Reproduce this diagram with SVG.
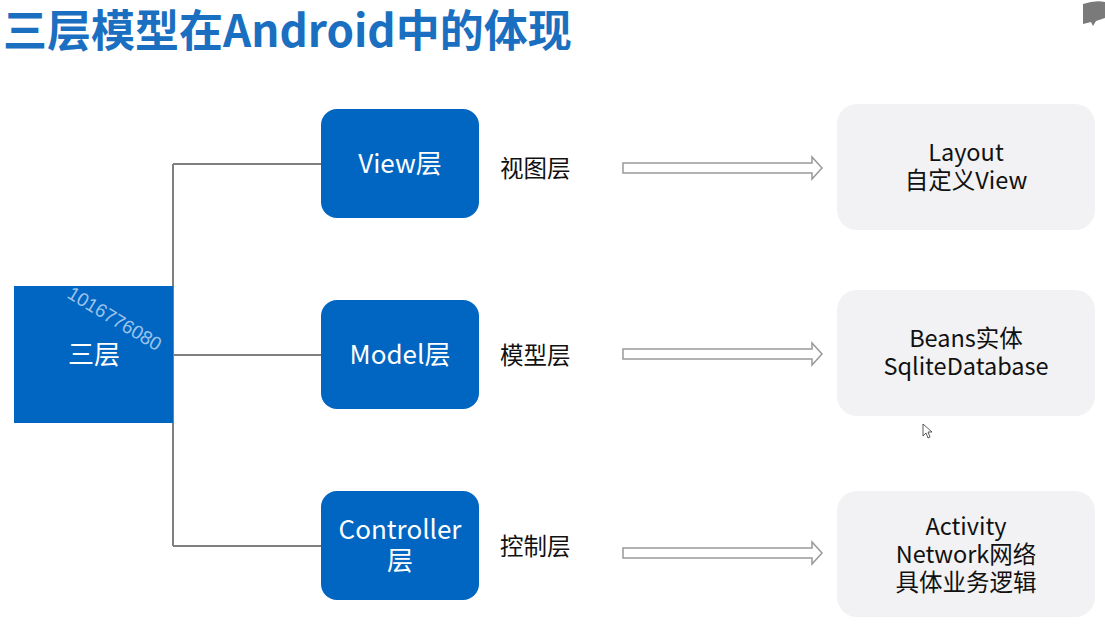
<svg xmlns="http://www.w3.org/2000/svg" width="1105" height="624" viewBox="0 0 1105 624">
<style>
.title{font-family:"Noto Sans CJK SC","Noto Sans",sans-serif;font-weight:700;font-size:44px;fill:#1a6fc1}
.blue{fill:#0066c2}
.wt{font-family:"Noto Sans CJK SC","Noto Sans",sans-serif;font-size:26px;fill:#ffffff;text-anchor:middle}
.lbl{font-family:"Noto Sans CJK SC","Noto Sans",sans-serif;font-size:23.5px;fill:#111111}
.grey{fill:#f2f1f3}
.bt{font-family:"Noto Sans CJK SC","Noto Sans",sans-serif;font-size:23.5px;fill:#111111;text-anchor:middle}
.conn{stroke:#7f7f7f;stroke-width:2;fill:none}
.arr{fill:#ffffff;stroke:#999999;stroke-width:1.5}
</style>
<rect width="1105" height="624" fill="#ffffff"/>
<text class="title" x="3" y="47">三层模型在Android中的体现</text>
<path d="M1083,4 Q1095,0 1105,2 L1105,18 L1096,21 L1093,26 L1091,22 L1083,24 Z" fill="#7a7a7a"/>
<g id="connectors">
<path class="conn" d="M173,164 L173,546"/>
<path class="conn" d="M173,164 L322,164"/>
<path class="conn" d="M173,355 L322,355"/>
<path class="conn" d="M173,546 L322,546"/>
<path class="arr" d="M623,163 L812,163 L812,157 L822,168 L812,179 L812,173 L623,173 Z"/>
<path class="arr" d="M623,349 L812,349 L812,343 L822,354 L812,365 L812,359 L623,359 Z"/>
<path class="arr" d="M623,548 L812,548 L812,542 L822,553 L812,564 L812,558 L623,558 Z"/>
</g>
<g id="root">
<rect class="blue" x="14" y="286" width="159" height="137"/>
<text class="wt" x="94" y="364">三层</text>
<text x="66" y="297" transform="rotate(31 66 297)" font-family="Liberation Sans,sans-serif" font-size="19" fill="#9cc3ea">1016776080</text>
</g>
<g id="view">
<rect class="blue" x="321" y="109" width="158" height="109" rx="16"/>
<text class="wt" x="400" y="173">View层</text>
<text class="lbl" x="500" y="177">视图层</text>
</g>
<g id="model">
<rect class="blue" x="321" y="300" width="158" height="109" rx="16"/>
<text class="wt" x="400" y="364">Model层</text>
<text class="lbl" x="500" y="364">模型层</text>
</g>
<g id="controller">
<rect class="blue" x="321" y="491" width="158" height="109" rx="16"/>
<text class="wt" x="400" y="539">Controller</text>
<text class="wt" x="400" y="570">层</text>
<text class="lbl" x="500" y="555">控制层</text>
</g>
<g id="layout">
<rect class="grey" x="837" y="104" width="258" height="126" rx="20"/>
<text class="bt" x="966" y="161">Layout</text>
<text class="bt" x="966" y="189">自定义View</text>
</g>
<g id="beans">
<rect class="grey" x="837" y="290" width="258" height="126" rx="20"/>
<text class="bt" x="966" y="347">Beans实体</text>
<text class="bt" x="966" y="375">SqliteDatabase</text>
</g>
<g id="activity">
<rect class="grey" x="837" y="491" width="258" height="126" rx="20"/>
<text class="bt" x="966" y="535">Activity</text>
<text class="bt" x="966" y="563">Network网络</text>
<text class="bt" x="966" y="591">具体业务逻辑</text>
</g>
<path d="M923,424 L923,436 L926,433 L928,438 L930,437 L928,432 L932,432 Z" fill="#ffffff" stroke="#333333" stroke-width="0.8"/>
</svg>
